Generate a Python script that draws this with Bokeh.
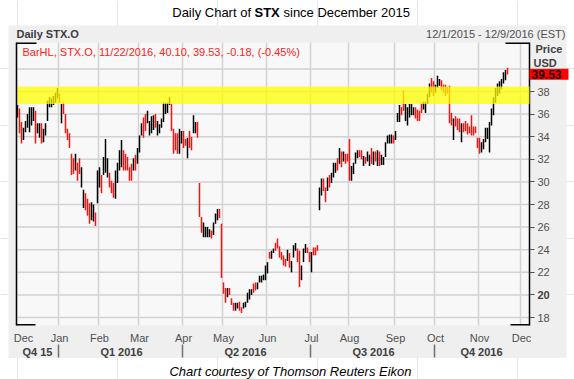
from bokeh.plotting import figure
from bokeh.models import Range1d, FixedTicker, LinearAxis, BoxAnnotation, Label, ColumnDataSource
from bokeh.embed import file_html
from bokeh.resources import INLINE

# ---------------- data ----------------
bar_high = [
    36.8, 36.5, 35.3, 34.8, 35.4, 36.0, 36.6, 36.6, 36.6, 36.3,
    35.2, 35.2, 35.2, 34.7, 35.2, 37.2, 37.5, 37.4, 37.6, 37.9,
    38.3, 37.8, 36.9, 37.0, 36.0, 34.7, 34.3, 32.5, 32.1, 32.5,
    31.7, 32.1, 31.3, 29.3, 29.0, 28.5, 28.1, 28.2, 28.0, 27.3,
    31.0, 31.3, 30.6, 32.2, 33.8, 32.1, 30.8, 30.1, 29.9, 31.0,
    31.7, 32.8, 33.7, 32.8, 32.5, 32.2, 31.3, 31.6, 32.1, 32.4,
    33.0, 34.1, 35.2, 35.7, 36.0, 36.3, 35.4, 35.8, 35.9, 36.0,
    35.4, 35.1, 35.6, 37.0, 37.0, 37.0, 37.5, 36.9, 34.7, 34.3,
    34.3, 34.7, 34.5, 34.5, 33.8, 33.9, 34.5, 34.0, 35.9, 35.3,
    35.3, 29.9, 26.9, 26.4, 26.0, 26.0, 25.8, 25.7, 26.4, 27.2,
    27.6, 27.6, 26.3, 21.1, 20.6, 20.6, 20.6, 19.7, 19.3, 19.3,
    19.3, 19.4, 18.9, 19.3, 19.4, 20.2, 20.5, 20.5, 21.0, 21.1,
    21.1, 21.7, 21.7, 21.8, 22.6, 22.9, 23.8, 23.9, 24.1, 24.6,
    25.0, 24.3, 23.8, 23.5, 23.2, 24.0, 23.7, 23.0, 24.4, 24.6,
    24.1, 23.9, 22.6, 24.1, 24.5, 24.2, 23.8, 23.8, 24.2, 24.2,
    24.4, 29.5, 30.3, 30.3, 29.5, 30.4, 30.6, 30.8, 31.7, 31.7,
    32.1, 33.0, 32.7, 32.7, 32.5, 32.5, 33.8, 31.4, 31.7, 32.6,
    32.8, 32.8, 32.8, 32.3, 32.2, 32.7, 32.4, 33.0, 32.7, 32.7,
    32.8, 32.7, 32.4, 32.2, 33.5, 34.1, 34.2, 34.2, 34.1, 34.5,
    36.1, 36.8, 36.6, 38.1, 36.9, 36.6, 36.9, 36.9, 36.6, 36.6,
    36.4, 36.3, 37.0, 37.1, 37.1, 37.8, 38.7, 39.2, 38.9, 38.6,
    39.4, 39.1, 39.0, 38.6, 38.6, 38.4, 38.5, 36.1, 35.6, 35.8,
    35.6, 35.6, 35.2, 35.2, 35.4, 35.2, 34.9, 35.9, 34.9, 34.9,
    33.9, 33.9, 33.5, 33.8, 34.8, 34.8, 35.3, 36.5, 37.5, 38.3,
    38.7, 38.9, 39.1, 39.7, 39.9, 40.1,
]
bar_low = [
    35.7, 34.3, 33.4, 33.7, 34.4, 34.8, 34.4, 35.0, 35.4, 33.4,
    34.3, 33.9, 33.4, 33.5, 34.1, 35.4, 36.6, 36.6, 36.8, 37.0,
    37.4, 37.0, 35.2, 36.0, 34.3, 33.7, 33.0, 30.6, 30.7, 31.0,
    30.1, 30.7, 29.5, 27.7, 27.5, 27.0, 26.3, 26.6, 26.5, 26.1,
    28.1, 29.5, 29.0, 30.6, 30.8, 30.4, 29.5, 29.0, 28.6, 28.5,
    29.9, 31.0, 31.3, 31.0, 31.0, 31.0, 30.1, 30.1, 31.0, 31.0,
    31.6, 32.6, 34.1, 33.9, 34.5, 35.2, 34.1, 34.3, 34.6, 34.8,
    34.1, 34.3, 34.8, 35.3, 36.0, 36.1, 36.8, 34.5, 32.5, 32.8,
    32.5, 32.5, 33.4, 33.0, 33.2, 32.1, 33.0, 32.8, 34.3, 34.3,
    33.9, 26.9, 25.5, 25.1, 25.1, 25.1, 25.1, 25.0, 25.3, 26.3,
    26.6, 26.8, 21.5, 20.1, 19.3, 19.8, 20.0, 19.1, 18.6, 18.6,
    18.8, 18.6, 18.4, 18.8, 18.9, 19.3, 19.6, 20.0, 20.2, 20.4,
    20.5, 21.1, 21.1, 21.3, 21.3, 21.9, 23.2, 23.2, 23.7, 23.9,
    24.1, 23.3, 23.1, 22.6, 22.5, 23.0, 22.4, 22.0, 23.3, 23.9,
    22.9, 20.7, 21.3, 22.9, 23.7, 23.7, 22.9, 22.0, 23.5, 23.5,
    23.9, 27.5, 28.8, 29.2, 28.2, 29.2, 29.5, 29.9, 30.4, 30.8,
    31.0, 31.6, 31.3, 31.8, 31.6, 31.8, 30.1, 30.1, 30.7, 31.6,
    32.1, 32.2, 32.0, 31.4, 31.6, 31.8, 31.4, 31.6, 31.5, 31.8,
    31.4, 31.4, 31.5, 31.5, 32.2, 33.4, 33.4, 33.4, 33.4, 33.7,
    35.3, 35.3, 35.9, 36.3, 35.4, 35.0, 35.7, 35.9, 35.9, 35.6,
    35.4, 35.4, 36.1, 36.4, 36.1, 36.9, 37.5, 37.9, 37.6, 37.9,
    38.3, 38.5, 38.1, 37.9, 37.6, 37.8, 35.2, 35.0, 33.7, 34.9,
    34.6, 34.4, 33.5, 34.4, 34.5, 34.2, 34.3, 34.1, 34.1, 34.3,
    33.0, 32.5, 32.6, 32.9, 33.5, 33.8, 32.6, 35.0, 35.9, 37.0,
    37.6, 37.8, 38.2, 38.7, 39.0, 39.5,
]
bar_up = [
    1, 0, 0, 1, 1, 1, 1, 1, 1, 0,
    1, 1, 0, 1, 1, 1, 1, 1, 1, 1,
    1, 0, 1, 0, 0, 0, 0, 0, 0, 1,
    0, 0, 1, 1, 0, 0, 0, 1, 1, 0,
    1, 1, 0, 1, 1, 1, 0, 0, 0, 1,
    1, 1, 1, 0, 0, 0, 0, 0, 1, 0,
    1, 1, 1, 0, 0, 1, 1, 1, 1, 0,
    1, 1, 1, 1, 1, 1, 1, 0, 0, 0,
    0, 1, 1, 0, 0, 1, 0, 0, 1, 1,
    0, 0, 0, 1, 1, 1, 1, 0, 1, 1,
    1, 0, 0, 0, 0, 1, 0, 0, 0, 1,
    1, 0, 0, 1, 1, 1, 1, 1, 0, 0,
    1, 1, 1, 1, 1, 1, 0, 1, 1, 0,
    0, 0, 0, 0, 0, 1, 0, 1, 1, 1,
    0, 0, 1, 1, 1, 0, 0, 1, 0, 0,
    0, 1, 1, 0, 0, 1, 0, 1, 1, 1,
    0, 1, 0, 1, 0, 0, 0, 1, 1, 1,
    1, 0, 0, 1, 0, 1, 1, 0, 1, 0,
    1, 0, 1, 1, 1, 1, 1, 1, 0, 1,
    1, 1, 0, 0, 1, 1, 1, 1, 1, 0,
    0, 0, 0, 1, 1, 1, 1, 0, 0, 1,
    1, 1, 0, 0, 0, 0, 0, 0, 1, 0,
    0, 0, 1, 0, 0, 0, 0, 0, 0, 0,
    0, 0, 1, 1, 1, 1, 1, 1, 1, 1,
    1, 1, 1, 1, 1, 0,
]
month_names = ["Dec", "Jan", "Feb", "Mar", "Apr", "May", "Jun", "Jul",
               "Aug", "Sep", "Oct", "Nov", "Dec"]
month_start_bar = [0, 21, 41, 61, 83, 103, 125, 147, 166, 189, 209, 231, 252]
quarter_names = ["Q4 15", "Q1 2016", "Q2 2016", "Q3 2016", "Q4 2016"]
quarter_start_bar = [21, 83, 147, 209]
price_ticks = [18, 20, 22, 24, 26, 28, 30, 32, 34, 36, 38]
grid_prices = [18, 20, 22, 24, 26, 28, 30, 32, 34, 36, 38, 40]
band_low, band_high = 36.9, 38.45
last_date = "11/22/2016"
last_high, last_close, last_change, last_pct = 40.10, 39.53, -0.18, -0.45
date_span = "12/1/2015 - 12/9/2016 (EST)"

FONT = "Liberation Sans"


def px_x(X):  # page pixel -> data x (bar index units, 2 px per bar)
    return (X - 17) / 2.0


def px_y(Y):  # page pixel -> price units (11.3 px per dollar)
    return 38 - (Y - 91) / 11.3


W, H = 574, 379
X0, X1 = px_x(16), px_x(529)      # plot-area edges
Y0, Y1 = px_y(325), px_y(42)

p = figure(width=W, height=H, x_range=Range1d(px_x(0), px_x(W)), y_range=Range1d(px_y(H), px_y(0)),
           output_backend="svg", toolbar_location=None,
           x_axis_location=None, y_axis_location=None, min_border=0)
p.border_fill_color = "white"
p.background_fill_color = "white"
p.outline_line_color = None


def box(l, r, b, t, color, alpha=1.0, level="annotation"):
    p.add_layout(BoxAnnotation(left=l, right=r, bottom=b, top=t, fill_color=color,
                               fill_alpha=alpha, line_color=None, level=level))


# panel and plot-area backgrounds
box(px_x(8), px_x(566), px_y(357.5), px_y(25), "#efefef", level="underlay")
box(X0, X1, Y0, Y1, "#f8f8f8", level="underlay")

# grid lines
gx = [s - 0.5 for s in month_start_bar]
p.segment(x0=gx, y0=[Y0] * len(gx), x1=gx, y1=[Y1] * len(gx), line_color="#d2d2d2", line_width=1.5)
p.segment(x0=[X0] * len(grid_prices), y0=grid_prices, x1=[X1] * len(grid_prices), y1=grid_prices,
          line_color="#d2d2d2", line_width=1.5)

# bars
src = ColumnDataSource(dict(
    x=list(range(len(bar_high))), hi=bar_high, lo=bar_low,
    c=["#000000" if u else "#ff1010" for u in bar_up]))
p.segment(x0="x", y0="lo", x1="x", y1="hi", line_color="c", line_width=1.5, source=src)

# yellow resistance band
box(X0, X1, band_low, band_high, "#ffff00", alpha=0.75)

# frame: left line and corner stubs
box(X0 - 0.375, X0 + 0.375, Y0, Y1, "black")
th = 0.13
box(X0, px_x(36), Y1 - th, Y1, "black")
box(px_x(505), X1, Y1 - th, Y1, "black")
box(X0, px_x(35), Y0, Y0 + th, "black")
box(px_x(510), X1, Y0, Y0 + th, "black")

# right price axis
ra = LinearAxis(fixed_location=X1, bounds=(Y0, Y1), ticker=FixedTicker(ticks=price_ticks))
ra.major_label_overrides = {20: " "}
ra.major_label_text_font = FONT
ra.major_label_text_font_size = "11px"
ra.major_label_text_color = "#505050"
ra.major_tick_out = 5
ra.major_tick_in = 0
ra.major_tick_line_color = "#505050"
ra.minor_tick_line_color = None
ra.axis_line_color = "black"
ra.axis_line_width = 1.5
ra.major_label_standoff = 3
p.add_layout(ra, "right")

# month axis
month_label_pos = [3] + month_start_bar[1:]
ma = LinearAxis(fixed_location=Y0, bounds=(X0, X1), ticker=FixedTicker(ticks=month_label_pos))
ma.major_label_overrides = {pos: name for pos, name in zip(month_label_pos, month_names)}
ma.major_label_text_font = FONT
ma.major_label_text_font_size = "11px"
ma.major_label_text_color = "#505050"
ma.major_tick_out = 0
ma.major_tick_in = 0
ma.major_tick_line_color = None
ma.minor_tick_line_color = None
ma.axis_line_color = None
ma.major_label_standoff = 6
p.add_layout(ma, "below")

# quarter separators (ticks only)
q_bounds = [q - 0.5 for q in quarter_start_bar]
sa = LinearAxis(fixed_location=px_y(343.5), bounds=(X0, X1), ticker=FixedTicker(ticks=q_bounds))
sa.major_label_overrides = {b: " " for b in q_bounds}
sa.major_label_text_font_size = "1px"
sa.major_tick_out = 13
sa.major_tick_in = 0
sa.major_tick_line_color = "#707070"
sa.major_tick_line_width = 1.5
sa.minor_tick_line_color = None
sa.axis_line_color = None
p.add_layout(sa, "below")

# quarter labels
edges = [X0] + q_bounds + [X1]
q_centers = [int(round((edges[k] + edges[k + 1]) / 2)) for k in range(len(quarter_names))]
qa = LinearAxis(fixed_location=px_y(343.5), bounds=(X0, X1), ticker=FixedTicker(ticks=q_centers))
qa.major_label_overrides = {pos: name for pos, name in zip(q_centers, quarter_names)}
qa.major_label_text_font = FONT
qa.major_label_text_font_size = "11px"
qa.major_label_text_font_style = "bold"
qa.major_label_text_color = "#404040"
qa.major_tick_out = 0
qa.major_tick_in = 0
qa.major_tick_line_color = None
qa.minor_tick_line_color = None
qa.axis_line_color = None
qa.major_label_standoff = 2
p.add_layout(qa, "below")

# last price marker
box(X1, px_x(568), last_close - 0.49, last_close + 0.49, "#ff0000")


def lab(x, y, text, align="left", size="11px", style="normal", color="#000000", baseline="middle"):
    p.add_layout(Label(x=x, y=y, text=text, text_align=align, text_baseline=baseline,
                       text_font=FONT, text_font_size=size, text_font_style=style,
                       text_color=color))


lab(px_x(531), last_close, f"{last_close:.2f}", size="12px", style="bold", color="#1a0000")
lab(px_x(537), 20, "20", style="bold", color="#404040")
lab(px_x(535), px_y(48), "Price", style="bold", color="#404040")
lab(px_x(533), px_y(62), "USD", style="bold", color="#404040")
lab(px_x(16), px_y(33), "Daily STX.O", style="bold", color="#3c3c3c")
lab(px_x(565), px_y(33), date_span, align="right", color="#505050")
info = (f"BarHL, STX.O, {last_date}, {last_high:.2f}, {last_close:.2f}, "
        f"{last_change:.2f}, ({last_pct:.2f}%)")
lab(px_x(22), px_y(51), info, color="#ff2020")

# title
lab(px_x(250.5), px_y(12), "Daily Chart of", align="right", size="13px")
lab(px_x(254), px_y(12), "STX", size="13px", style="bold")
lab(px_x(283), px_y(12), "since December 2015", size="13px")

# caption
lab(px_x(290), px_y(370.5), "Chart courtesy of Thomson Reuters Eikon", align="center",
    size="13px", style="italic")

open("out.html", "w").write(file_html(p, INLINE))
